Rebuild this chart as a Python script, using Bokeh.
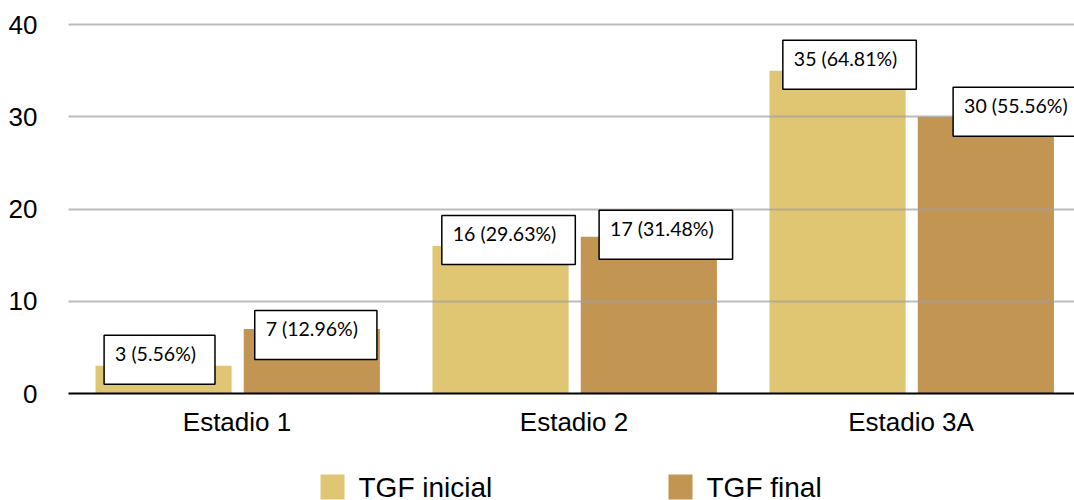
from bokeh.plotting import figure
from bokeh.layouts import column
from bokeh.models import Range1d, FixedTicker, Label
from bokeh.core.properties import value
from bokeh.embed import file_html
from bokeh.resources import INLINE

# Patients per stage, before and after treatment
stages = ["Estadio 1", "Estadio 2", "Estadio 3A"]
tgf_inicial = [3, 16, 35]
tgf_final = [7, 17, 30]
pct_inicial = [5.56, 29.63, 64.81]
pct_final = [12.96, 31.48, 55.56]
y_ticks = [0, 10, 20, 30, 40]
series_names = ["TGF inicial", "TGF final"]

COL_INI = "#E0C673"
COL_FIN = "#C29552"
AXIS_FONT = "Liberation Sans"
LABEL_FONT = "Lato"

# Label box nudges in screen pixels (dx, dy) so the boxes don't collide
nudge_ini = [(-4, 6), (8, 6), (12, 6)]
nudge_fin = [(4, -6), (17, 2), (34, 5)]

BAR_W = 0.404
OFF_INI = -0.218
OFF_FIN = 0.222

centers = [i + 0.5 for i in range(len(stages))]
x_ini = [c + OFF_INI for c in centers]
x_fin = [c + OFF_FIN for c in centers]

p = figure(
    width=1074, height=460, output_backend="svg", toolbar_location=None,
    x_range=Range1d(0, 2.985), y_range=Range1d(0, 40.55),
    min_border_left=68, min_border_right=0, min_border_top=19, min_border_bottom=67,
)
p.outline_line_color = None
p.background_fill_color = "white"
p.border_fill_color = "white"

p.vbar(x=x_ini, top=tgf_inicial, bottom=0, width=BAR_W, fill_color=COL_INI, line_color=None)
p.vbar(x=x_fin, top=tgf_final, bottom=0, width=BAR_W, fill_color=COL_FIN, line_color=None)

# y axis: plain numbers, no line or ticks
p.yaxis.ticker = FixedTicker(ticks=y_ticks)
p.yaxis.axis_line_color = None
p.yaxis.major_tick_line_color = None
p.yaxis.minor_tick_line_color = None
p.yaxis.major_label_standoff = 25
p.yaxis.major_label_text_font = AXIS_FONT
p.yaxis.major_label_text_font_size = "26px"
p.yaxis.major_label_text_color = "black"

# x axis: black baseline with stage names
p.xaxis.ticker = FixedTicker(ticks=centers)
p.xaxis.major_label_overrides = {c: s for c, s in zip(centers, stages)}
p.xaxis.axis_line_color = "black"
p.xaxis.axis_line_width = 2
p.xaxis.major_tick_line_color = None
p.xaxis.minor_tick_line_color = None
p.xaxis.major_label_standoff = 7
p.xaxis.major_label_text_font = AXIS_FONT
p.xaxis.major_label_text_font_size = "26px"
p.xaxis.major_label_text_color = "black"

p.xgrid.visible = False
p.ygrid.ticker = FixedTicker(ticks=y_ticks[1:])
p.ygrid.grid_line_color = "#A0A0A0"
p.ygrid.grid_line_alpha = 0.7
p.ygrid.grid_line_width = 2
p.ygrid.level = "guide"

# value labels in white boxes
def add_labels(xs, vals, pcts, nudges):
    for x, v, pc, (dx, dy) in zip(xs, vals, pcts, nudges):
        p.add_layout(Label(
            x=x, y=v, x_offset=dx, y_offset=dy,
            text=f"{v} ({pc:.2f}%)",
            text_align="center", text_baseline="middle",
            text_font=LABEL_FONT, text_font_size="19.5px", text_color="black",
            background_fill_color="white",
            border_line_color="black", border_line_width=1.5,
            padding=(11, 19, 7, 19),
        ))

add_labels(x_ini, tgf_inicial, pct_inicial, nudge_ini)
add_labels(x_fin, tgf_final, pct_final, nudge_fin)

# legend strip underneath the chart; its frame lines up with the chart frame
# (starting 68px from the left), ranges are in page pixels with y pointing down
leg = figure(
    width=1074, height=40, output_backend="svg", toolbar_location=None,
    x_range=Range1d(68, 1074), y_range=Range1d(40, 0), title=None,
    x_axis_location=None, y_axis_location=None,
    min_border=0, outline_line_color=None,
)
leg.grid.visible = False
leg.border_fill_color = "white"
leg.background_fill_color = "white"

swatch_left = [320, 668]
swatch_size = 24
leg.quad(left=swatch_left, right=[s + swatch_size for s in swatch_left],
         top=[14, 14], bottom=[39, 39], fill_color=[COL_INI, COL_FIN], line_color=None)
leg.text(x=[s + swatch_size + 14 for s in swatch_left], y=[27, 27], text=series_names,
         text_font=value(AXIS_FONT), text_font_size="28px", text_color="black",
         text_align="left", text_baseline="middle")

layout = column(p, leg, spacing=0)
open("out.html", "w").write(file_html(layout, INLINE))
